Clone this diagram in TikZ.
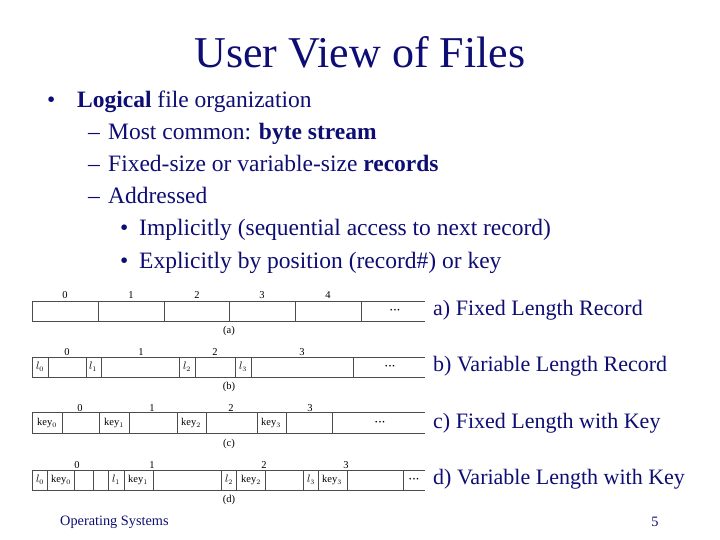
\documentclass[tikz,border=0pt]{standalone}
\usepackage{fontspec}
\setmainfont{Liberation Serif}
\definecolor{navy}{rgb}{0.05,0.05,0.45}
\begin{document}
\begin{tikzpicture}[x=1pt,y=-1pt,
  txt/.style={anchor=base west,inner sep=0pt,text=navy,font=\fontsize{23.5}{28}\selectfont},
  lbl/.style={anchor=west,inner sep=0pt,text=navy,font=\fontsize{22}{26}\selectfont},
  num/.style={inner sep=0pt,font=\fontsize{10.5}{12}\selectfont},
  cell/.style={inner sep=0pt,font=\fontsize{10.5}{12}\selectfont},
  dots/.style={inner sep=0pt,font=\fontsize{7}{8}\selectfont},
  rec/.style={draw=black!70,line width=0.7pt}]
\useasboundingbox (0,0) rectangle (720,540);
\node (title) at (360,52) [text=navy,font=\fontsize{44}{50}\selectfont] {User View of Files};
\node (b1) at (47,108) [txt] {•};
\node (t1) at (77,108) [txt] {\textbf{Logical} file organization};
\node (d1) at (88,140) [txt] {–};
\node (t2) at (108,140) [txt] {Most common: \textbf{byte stream}};
\node (d2) at (88,172) [txt] {–};
\node (t3) at (108,172) [txt] {Fixed-size or variable-size \textbf{records}};
\node (d3) at (88,204) [txt] {–};
\node (t4) at (108,204) [txt] {Addressed};
\node (b2) at (120,236) [txt] {•};
\node (t5) at (139,236) [txt] {Implicitly (sequential access to next record)};
\node (b3) at (120,268) [txt] {•};
\node (t6) at (139,268) [txt] {Explicitly by position (record\#) or key};
% (a)
\draw[rec] (425,301) -- (32,301) -- (32,321) -- (425,321);
\foreach \x in {98,164,229,295,361} \draw[rec] (\x,301) -- (\x,321);
\foreach \x/\n in {65/0,131/1,197/2,262/3,328/4} \node[num] at (\x,295) {\n};
\node[dots] at (395,311) {•\,•\,•};
\node[num] at (229,331) {(a)};
% (b)
\draw[rec] (425,357) -- (32,357) -- (32,377) -- (425,377);
\foreach \x in {48,86,101,179,195,235,251,353} \draw[rec] (\x,357) -- (\x,377);
\foreach \x/\n in {67/0,141/1,215/2,302/3} \node[num] at (\x,352) {\n};
\foreach \x/\n in {40/0,93/1,187/2,243/3} \node[cell] at (\x,367) {$l_\n$};
\node[dots] at (390,367) {•\,•\,•};
\node[num] at (229,387) {(b)};
% (c)
\draw[rec] (425,412) -- (32,412) -- (32,433) -- (425,433);
\foreach \x in {62,99,129,177,206,257,286,332} \draw[rec] (\x,412) -- (\x,433);
\foreach \x/\n in {80/0,152/1,231/2,310/3} \node[num] at (\x,408) {\n};
\foreach \x/\n in {47/0,114/1,191/2,271/3} \node[cell] at (\x,423) {key$_\n$};
\node[dots] at (380,423) {•\,•\,•};
\node[num] at (229,444) {(c)};
% (d)
\draw[rec] (425,470) -- (32,470) -- (32,490) -- (425,490);
\foreach \x in {47,74,93,108,124,153,221,236,265,303,318,347,403} \draw[rec] (\x,470) -- (\x,490);
\foreach \x/\n in {77/0,152/1,264/2,346/3} \node[num] at (\x,465) {\n};
\foreach \x/\n in {40/0,116/1,229/2,311/3} \node[cell] at (\x,480) {$l_\n$};
\foreach \x/\n in {61/0,138/1,251/2,332/3} \node[cell] at (\x,480) {key$_\n$};
\node[dots] at (414,480) {•\,•\,•};
\node[num] at (229,500) {(d)};
% labels
\node (la) at (433,310) [lbl] {a) Fixed Length Record};
\node (lb) at (433,366) [lbl] {b) Variable Length Record};
\node (lc) at (433,423) [lbl] {c) Fixed Length with Key};
\node (ld) at (433,479) [lbl] {d) Variable Length with Key};
\node (foot) at (60,522) [anchor=west,inner sep=0pt,text=navy,font=\fontsize{14.3}{16}\selectfont] {Operating Systems};
\node (page) at (655,522) [inner sep=0pt,text=navy,font=\fontsize{14.3}{16}\selectfont] {5};
\end{tikzpicture}
\end{document}
